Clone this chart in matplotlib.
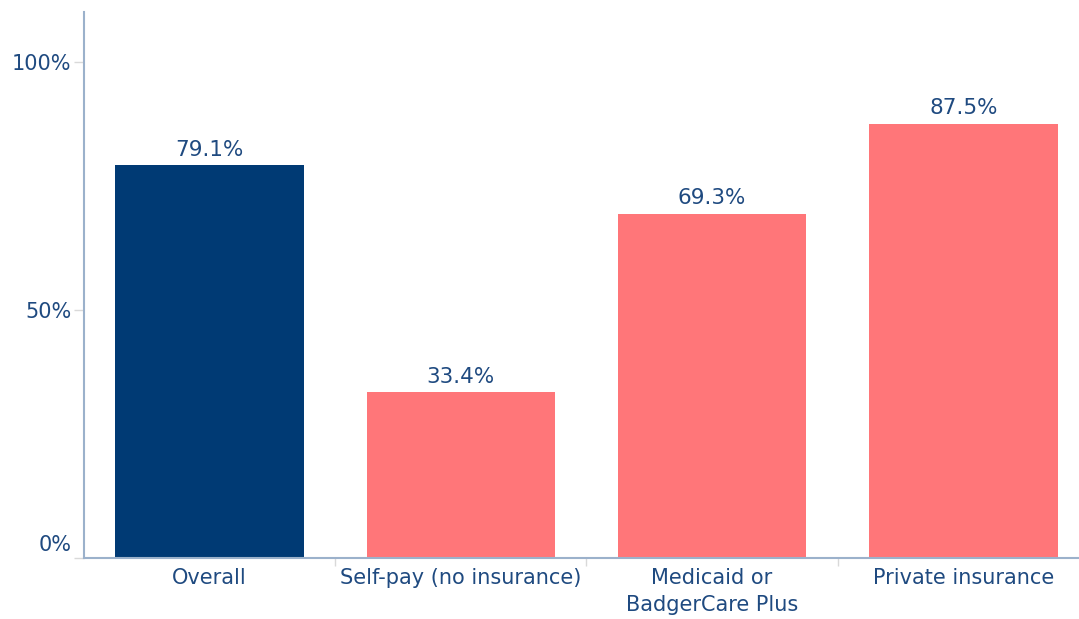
import matplotlib
matplotlib.use("Agg")
import matplotlib.pyplot as plt
from matplotlib.transforms import ScaledTranslation

categories = ["Overall", "Self-pay (no insurance)", "Medicaid or\nBadgerCare Plus", "Private insurance"]
values = [79.1, 33.4, 69.3, 87.5]
bar_colors = ["#003A74", "#FF7679", "#FF7679", "#FF7679"]
y_ticks = [0, 50, 100]
y_tick_labels = ["0%", "50%", "100%"]

text_color = "#1F4A80"
axis_color = "#9BB1CB"
tick_color = "#D9D9D9"

plt.rcParams["font.family"] = ["DejaVu Sans"]

fig = plt.figure(figsize=(10.79, 6.19), dpi=100)
ax = fig.add_axes([84 / 1079, 1 - 558 / 619, 1005 / 1079, 546 / 619])

x = list(range(len(categories)))
bars = ax.bar(x, values, width=0.75, color=bar_colors, zorder=2)

for xi, v in zip(x, values):
    ax.annotate(f"{v:.1f}%", (xi, v), xytext=(0, 4), textcoords="offset points",
                ha="center", va="bottom", fontsize=15.5, color=text_color)

ax.set_xlim(-0.5, len(categories) - 0.5)
ax.set_ylim(0, 110)

ax.set_yticks(y_ticks)
ax.set_yticklabels(y_tick_labels, fontsize=15, color=text_color)
ax.tick_params(axis="y", length=7, width=1, color=tick_color, pad=2)

# category labels centered under bars; boundary ticks drawn as minor ticks
ax.set_xticks(x)
ax.set_xticklabels(categories, fontsize=15, color=text_color, linespacing=1.45)
ax.tick_params(axis="x", which="major", length=0, pad=7)
ax.set_xticks([i + 0.5 for i in x[:-1]], minor=True)
ax.tick_params(axis="x", which="minor", length=6, width=1, color=tick_color)

# lift the 0% label above the baseline
zero_label = ax.get_yticklabels()[0]
zero_label.set_transform(zero_label.get_transform() + ScaledTranslation(0, 15 / 100, fig.dpi_scale_trans))

for side in ["top", "right"]:
    ax.spines[side].set_visible(False)
for side in ["left", "bottom"]:
    ax.spines[side].set_color(axis_color)
    ax.spines[side].set_linewidth(1.5)

fig.savefig("out.png", dpi=100)
